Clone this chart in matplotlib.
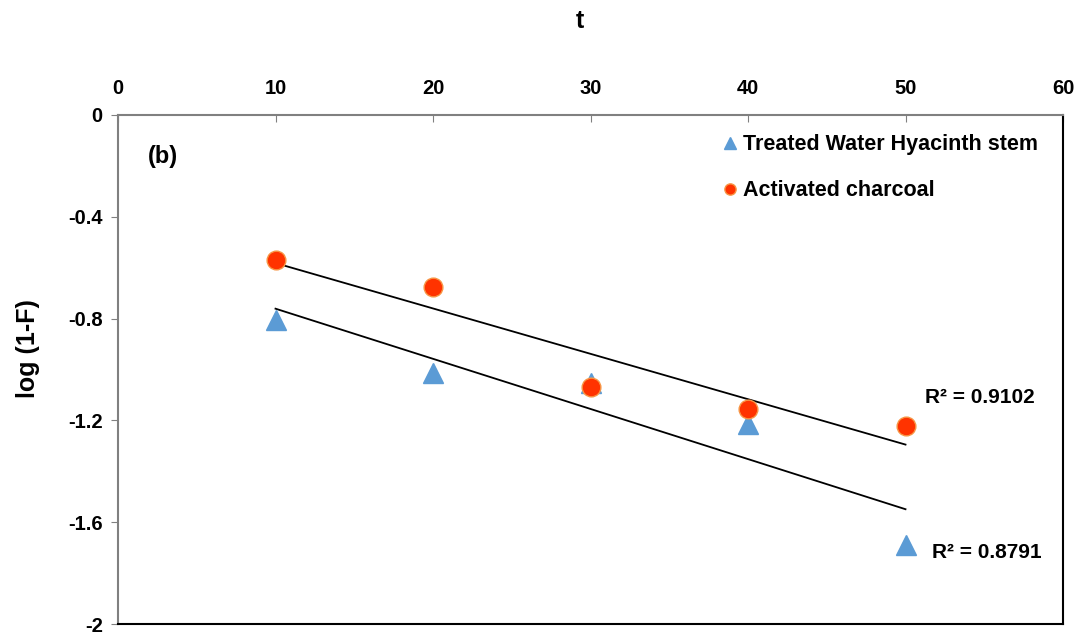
import numpy as np
import matplotlib
matplotlib.use("Agg")
import matplotlib.pyplot as plt

plt.rcParams['font.family'] = ['Liberation Sans', 'DejaVu Sans']
plt.rcParams['font.weight'] = 'bold'

t = [10, 20, 30, 40, 50]
hyacinth = [-0.805, -1.014, -1.052, -1.214, -1.690]
charcoal = [-0.570, -0.676, -1.069, -1.155, -1.222]
x_ticks = [0, 10, 20, 30, 40, 50, 60]
y_ticks = [0, -0.4, -0.8, -1.2, -1.6, -2]
y_ticklabels = ['0', '-0.4', '-0.8', '-1.2', '-1.6', '-2']
r2_charcoal = "R² = 0.9102"
r2_hyacinth = "R² = 0.8791"

fig = plt.figure(figsize=(10.82, 6.39), dpi=100)
ax = fig.add_axes([118/1082, 1-624/639, (1063-118)/1082, (624-115)/639])

blue = '#5B9BD5'
orange = '#FF3300'

ax.plot(t, hyacinth, linestyle='none', marker='^', markersize=14,
        color=blue, markeredgecolor=blue, label='Treated Water Hyacinth stem', zorder=3)
ax.plot(t, charcoal, linestyle='none', marker='o', markersize=13.5,
        color=orange, markeredgecolor='#F79646', markeredgewidth=1.0,
        label='Activated charcoal', zorder=4)

xs = np.array([t[0], t[-1]])
for ys in (hyacinth, charcoal):
    m, b = np.polyfit(t, ys, 1)
    ax.plot(xs, m*xs + b, color='black', linewidth=1.3, zorder=2)

ax.set_xlim(0, 60)
ax.set_ylim(-2, 0)
ax.xaxis.tick_top()
ax.set_xticks(x_ticks)
ax.set_yticks(y_ticks)
ax.set_yticklabels(y_ticklabels)
ax.tick_params(axis='x', direction='in', length=5, color='#808080', labelsize=14.5, pad=12)
ax.tick_params(axis='y', direction='out', length=5, color='#808080', labelsize=14.5, pad=6)
for lab in ax.get_xticklabels() + ax.get_yticklabels():
    lab.set_fontweight('bold')

ax.spines['left'].set_color('#808080')
ax.spines['top'].set_color('#808080')
ax.spines['left'].set_linewidth(1.5)
ax.spines['top'].set_linewidth(1.5)
ax.spines['right'].set_color('black')
ax.spines['bottom'].set_color('black')
ax.spines['right'].set_linewidth(1.5)
ax.spines['bottom'].set_linewidth(1.5)

ax.text(0.489, 1.185, 't', transform=ax.transAxes, fontsize=18, fontweight='bold',
        ha='center', va='center')
ax.text(-0.095, 0.542, 'log (1-F)', transform=ax.transAxes, fontsize=18, fontweight='bold',
        ha='center', va='center', rotation=90)

ax.text(0.032, 0.905, '(b)', transform=ax.transAxes, fontsize=17, fontweight='bold')
ax.text(51.25, -1.11, r2_charcoal, fontsize=15, fontweight='bold', ha='left', va='center')
ax.text(51.7, -1.72, r2_hyacinth, fontsize=15, fontweight='bold', ha='left', va='center')

leg = ax.legend(loc='upper left', bbox_to_anchor=(0.62, 1.0), frameon=False,
                handlelength=0.6, handletextpad=0.3, markerscale=0.6,
                labelspacing=1.15, prop={'weight': 'bold', 'size': 15.5})

fig.savefig('out.png', dpi=100)
